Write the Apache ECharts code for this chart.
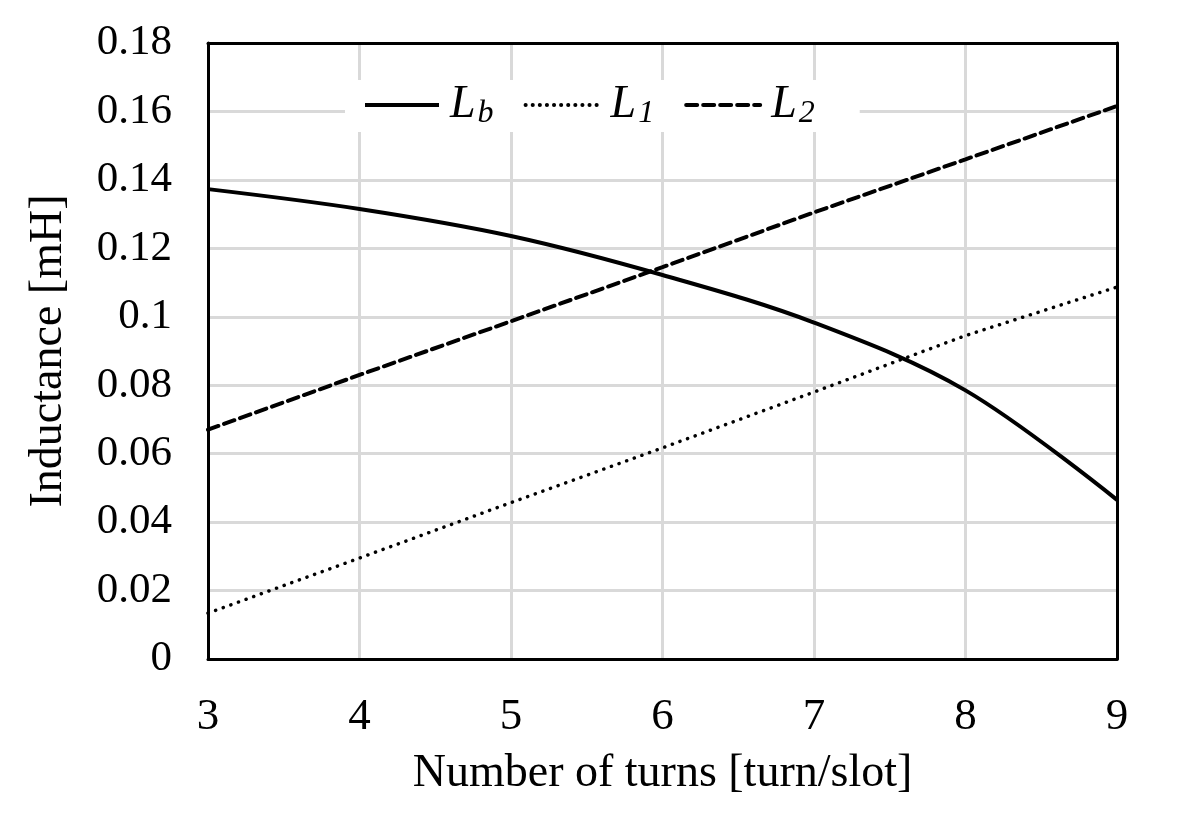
<!DOCTYPE html>
<html>
<head>
<meta charset="utf-8">
<script src="https://cdn.jsdelivr.net/npm/echarts@6/dist/echarts.min.js"></script>
<style>
  html, body { margin: 0; padding: 0; background: #fff; }
  #chart { width: 1179px; height: 835px; }
</style>
</head>
<body>
<div id="chart"></div>
<script>
// turns per slot
const turns = [3, 4, 5, 6, 7, 8, 9]
// inductance values [mH]
const Lb = [0.1373, 0.1315, 0.1236, 0.1122, 0.0983, 0.0785, 0.0465]
const L1 = [0.0134, 0.0295, 0.0457, 0.0617, 0.078, 0.0945, 0.1087]
const L2 = [0.067, 0.083, 0.0987, 0.1145, 0.1305, 0.146, 0.1616]

const font = '"Liberation Serif", "Times New Roman", serif'

const pairs = arr => turns.map((t, i) => [t, arr[i]])

//line styles shared by series and legend
const solidLine = { color: '#000', width: 4 }
const dotLine = { color: '#000', width: 3.5, type: [0.1, 8], cap: 'round' }
const dashLine = { color: '#000', width: 4, type: [11, 6], cap: 'round' }

const myChart = echarts.init(document.getElementById('chart'))

//frame axes (top / right) just draw the black box
const frameAxis = {
    axisLine: { show: true, onZero: false, lineStyle: { color: '#000', width: 3 } },
    axisTick: { show: false },
    axisLabel: { show: false },
    splitLine: { show: false }
}

const options = {
    backgroundColor: '#fff',
    animation: false,
    textStyle: { fontFamily: font, color: '#000' },
    grid: { left: 208, right: 62, top: 43, bottom: 176 },
    legend: {
        left: 345, top: 80,
        padding: [2, 45, 2, 18],
        backgroundColor: '#fff',
        itemWidth: 74, itemHeight: 20, itemGap: 30,
        itemStyle: { color: 'rgba(0,0,0,0)', borderWidth: 0 },
        data: [
            { name: 'Lb', lineStyle: solidLine },
            { name: 'L1', lineStyle: { color: '#000', width: 4, type: [0.1, 7], cap: 'round' } },
            { name: 'L2', lineStyle: dashLine }
        ],
        formatter: name => '{l|L}{s|' + name.slice(1) + '}',
        textStyle: {
            fontFamily: font,
            padding: [0, 0, 0, 6],
            rich: {
                l: { fontFamily: font, fontStyle: 'italic', fontSize: 46, color: '#000' },
                s: { fontFamily: font, fontStyle: 'italic', fontSize: 32, color: '#000', padding: [18, 0, 0, 2] }
            }
        }
    },
    xAxis: [
        {
            type: 'value', min: 3, max: 9, interval: 1,
            name: 'Number of turns [turn/slot]',
            nameLocation: 'middle', nameGap: 92,
            nameTextStyle: { fontFamily: font, fontSize: 46, color: '#000' },
            axisLine: { show: true, onZero: false, lineStyle: { color: '#000', width: 3 } },
            axisTick: { show: false },
            axisLabel: { fontFamily: font, fontSize: 45, color: '#000', margin: 36 },
            splitLine: { lineStyle: { color: '#d9d9d9', width: 3 } }
        },
        Object.assign({ type: 'value', min: 3, max: 9, position: 'top' }, frameAxis)
    ],
    yAxis: [
        {
            type: 'value', min: 0, max: 0.18, interval: 0.02,
            name: 'Inductance [mH]',
            nameLocation: 'middle', nameGap: 136,
            nameTextStyle: { fontFamily: font, fontSize: 46, color: '#000' },
            axisLine: { show: true, onZero: false, lineStyle: { color: '#000', width: 3 } },
            axisTick: { show: false },
            axisLabel: {
                fontFamily: font, fontSize: 43, color: '#000', margin: 36,
                formatter: v => String(+v.toFixed(2))
            },
            splitLine: { lineStyle: { color: '#d9d9d9', width: 3 } }
        },
        Object.assign({ type: 'value', min: 0, max: 0.18, position: 'right' }, frameAxis)
    ],
    series: [
        {
            name: 'Lb', type: 'line', data: pairs(Lb), smooth: 0.35,
            symbol: 'none', lineStyle: solidLine, itemStyle: { color: '#000' }
        },
        {
            name: 'L1', type: 'line', data: pairs(L1),
            symbol: 'none', lineStyle: dotLine, itemStyle: { color: '#000' }
        },
        {
            name: 'L2', type: 'line', data: pairs(L2),
            symbol: 'none', lineStyle: dashLine, itemStyle: { color: '#000' }
        }
    ]
}
myChart.setOption(options)
</script>
</body>
</html>
